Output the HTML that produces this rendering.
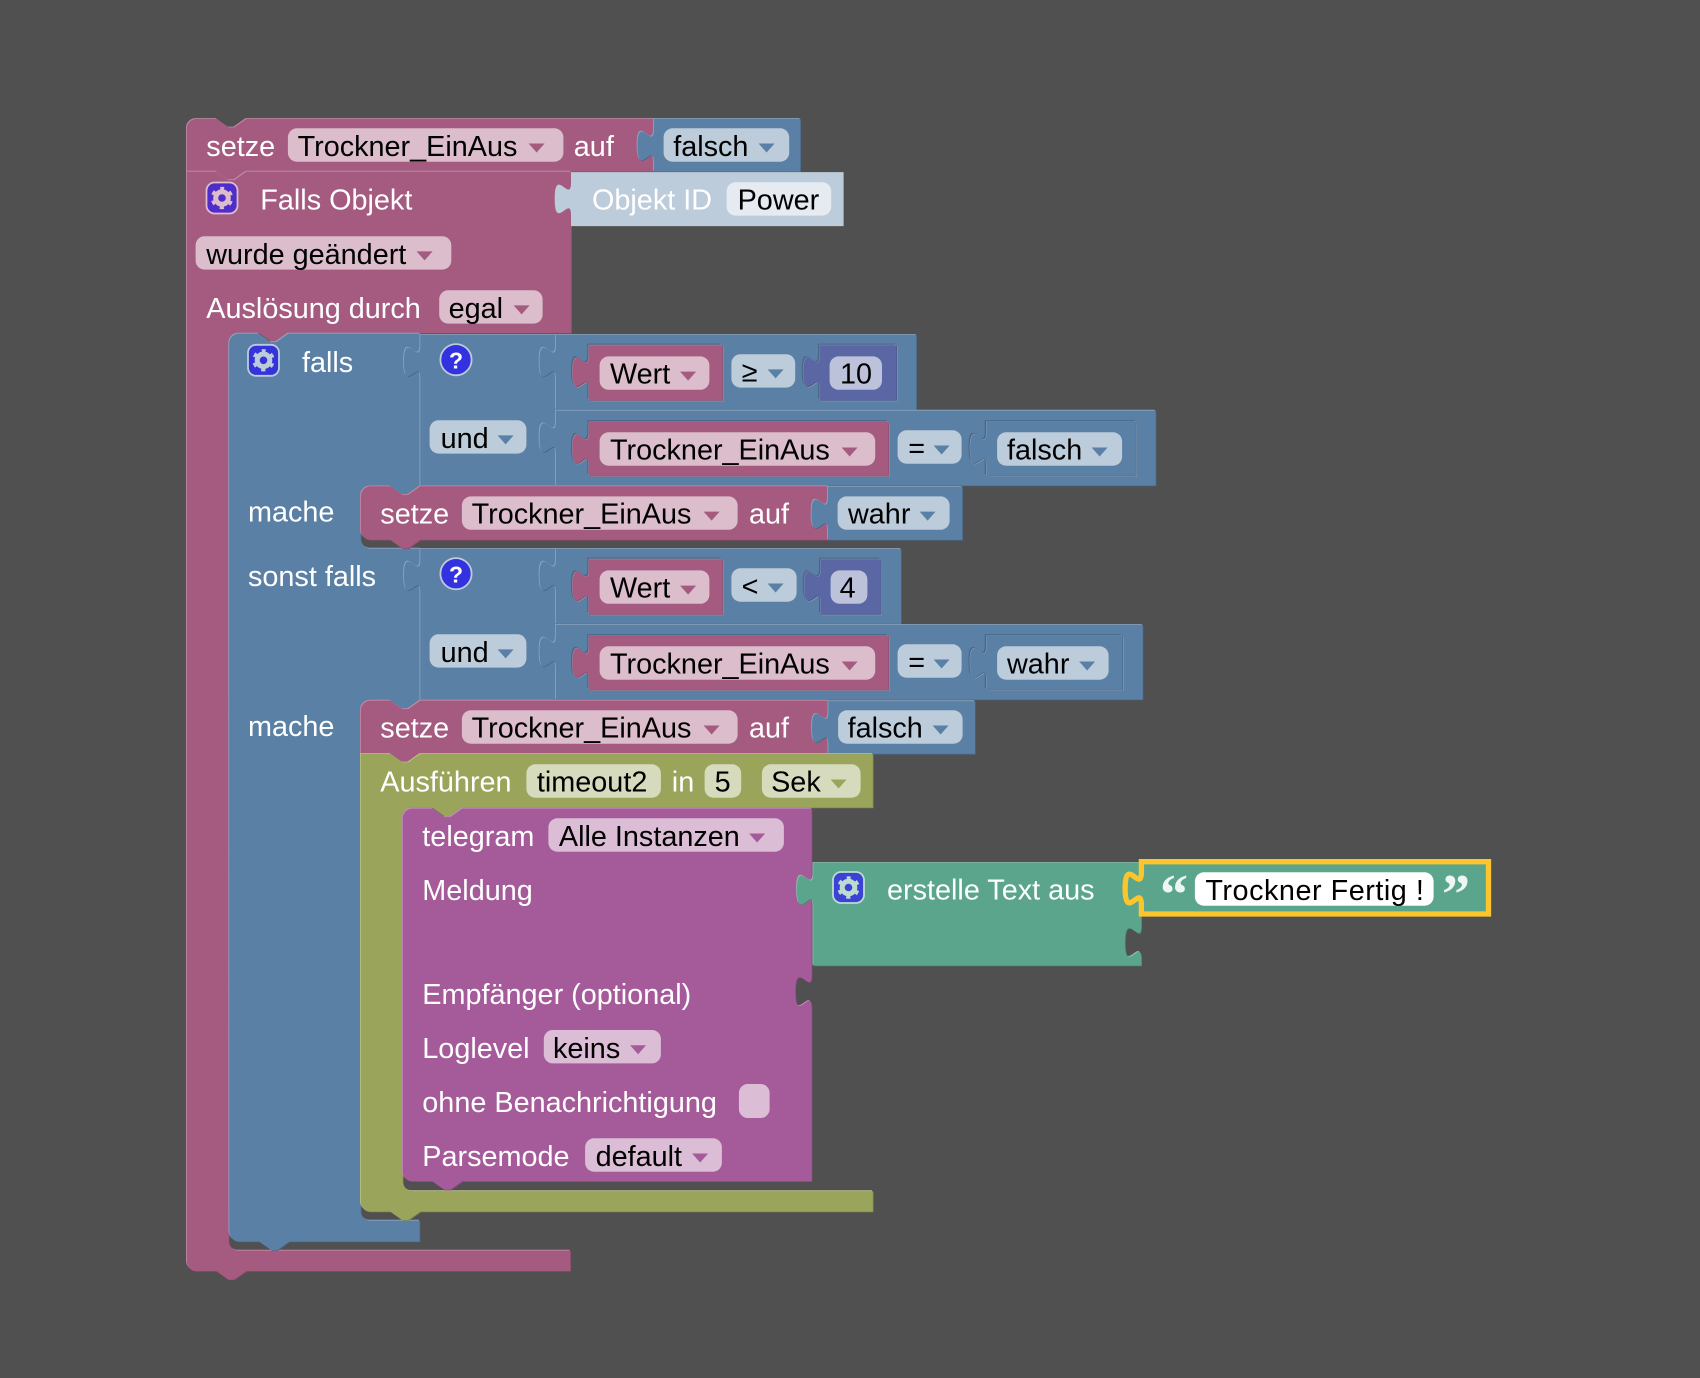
<!DOCTYPE html>
<html><head><meta charset="utf-8"><style>
html,body{margin:0;padding:0;background:#505050}
svg{display:block}
text{font-family:"Liberation Sans",sans-serif;font-size:28.8px}
.w{fill:#fff}.k{fill:#000}
</style></head><body>
<svg width="1700" height="1378" viewBox="0 0 1700 1378" xmlns="http://www.w3.org/2000/svg">
<rect width="1700" height="1378" fill="#505050"/>
<defs>
<path id="a" d="M186.5 128a9.7 9.7 0 0 1 9.7-9.7H216l12 8.5h6l12-8.5H653.5V171H246l-12 8.5h-6l-12-8.5H186.5Z"/>
<path id="b" d="M653.5 171V161.6c0-21.7-16.3 17.3-16.3-16.3s16.3 5.4 16.3-16.3V118.3H800V171Z"/>
<path id="c" d="M186.5 171H216l12 8.5h6l12-8.5H571V332.5H289l-12 8.5h-6l-12-8.5H238a9.5 9.5 0 0 0-9.5 9.5V1240.5a9.5 9.5 0 0 0 9.5 9.5H570V1270.5H246l-12 8.5h-6l-12-8.5H196a9.5 9.5 0 0 1-9.5-9.5Z"/>
<path id="d" d="M228.8 343a10 10 0 0 1 10-10H258l12 8.5h6l12-8.5H420V485.5l-12 8.5h-6l-12-8.5H370a9.5 9.5 0 0 0-9.5 9.5V538a10 10 0 0 0 10 10H420V700l-12 8.5h-6l-12-8.5H370a9.5 9.5 0 0 0-9.5 9.5V1210.5a9.5 9.5 0 0 0 9.5 9.5H419.3V1241H289l-12 8.5h-6l-12-8.5H239a10 10 0 0 1-10-10Z"/>
<path id="e" d="M420 485.5V377.6c0-21.7-16.3 17.3-16.3-16.3s16.3 5.4 16.3-16.3V334.3H555.5V485.5Z"/>
<path id="f" d="M555.5 409V377.6c0-21.7-16.3 17.3-16.3-16.3s16.3 5.4 16.3-16.3V334.3H916V409Z"/>
<path id="g" d="M555.5 485V453.3c0-21.7-16.3 17.3-16.3-16.3s16.3 5.4 16.3-16.3V410H1155.4V485Z"/>
<path id="h" d="M420 700V591.6c0-21.7-16.3 17.3-16.3-16.3s16.3 5.4 16.3-16.3V548.3H555.5V700Z"/>
<path id="i" d="M555.5 623.3V591.6c0-21.7-16.3 17.3-16.3-16.3s16.3 5.4 16.3-16.3V548.3H900.7V623.3Z"/>
<path id="j" d="M555.5 699V667.6c0-21.7-16.3 17.3-16.3-16.3s16.3 5.4 16.3-16.3V624.3H1142.4V699Z"/>
<path id="wt" d="M589 400V388.3c0-21.7-16.3 17.3-16.3-16.3s16.3 5.4 16.3-16.3V345H722.4V400Z"/>
<path id="tr" d="M589 475.7V465c0-21.7-16.3 17.3-16.3-16.3s16.3 5.4 16.3-16.3V421.7H888.7V475.7Z"/>
<path id="n1" d="M819.7 400V388.3c0-21.7-16.3 17.3-16.3-16.3s16.3 5.4 16.3-16.3V345H896.6V400Z"/>
<path id="n2" d="M820.7 614V602.3c0-21.7-16.3 17.3-16.3-16.3s16.3 5.4 16.3-16.3V559H881V614Z"/>
<path id="v1" d="M986.5 475.7V465c0-21.7-16.3 17.3-16.3-16.3s16.3 5.4 16.3-16.3V421.7H1136V475.7Z"/>
<path id="v2" d="M986.5 689.7V679c0-21.7-16.3 17.3-16.3-16.3s16.3 5.4 16.3-16.3V635.7H1122.5V689.7Z"/>
<path id="s1" d="M360.5 495.5a9.8 9.8 0 0 1 9.8-9.8H390l12 8.5h6l12-8.5H828V539.3H420l-12 8.5h-6l-12-8.5H370.2a9.7 9.7 0 0 1-9.7-9.7Z"/>
<path id="s1v" d="M827.5 539.3V529.6c0-21.7-16.3 17.3-16.3-16.3s16.3 5.4 16.3-16.3V486.3H962V539.3Z"/>
<path id="s2" d="M360.5 709.8a9.8 9.8 0 0 1 9.8-9.8H390l12 8.5h6l12-8.5H828V753.3H420l-12 8.5h-6l-12-8.5H360.5Z"/>
<path id="s2v" d="M828 753.3V743.8c0-21.7-16.3 17.3-16.3-16.3s16.3 5.4 16.3-16.3V700.5H974.7V753.3Z"/>
<path id="o" d="M360.5 753.3H390l12 8.5h6l12-8.5H872.5V807H462l-12 8.5h-6l-12-8.5H412a9.5 9.5 0 0 0-9.5 9.5V1181a9.5 9.5 0 0 0 9.5 9.5H872.5V1211H420l-12 8.5h-6l-12-8.5H370a9.5 9.5 0 0 1-9.5-9.5Z"/>
<path id="p" d="M402.5 817.7a9.7 9.7 0 0 1 9.7-9.7H432l12 8.5h6l12-8.5H811.4V974.7c0 21.7-16.3-17.3-16.3 16.3s16.3-5.4 16.3 16.3V1180.7H462l-12 8.5h-6l-12-8.5H412a9.5 9.5 0 0 1-9.5-9.5Z"/>
<path id="q" d="M813 965V905.6c0-21.7-16.3 17.3-16.3-16.3s16.3 5.4 16.3-16.3V862.3H1141V925.6c0 21.7-16.3-17.3-16.3 16.3s16.3-5.4 16.3 16.3V965Z"/>
<g id="gear"><circle r="6.3" fill="none" stroke-width="5"/><circle r="9.5" fill="none" stroke-width="3.4" stroke-dasharray="4.2 5.75" stroke-dashoffset="2.1" transform="rotate(-90)"/></g>
</defs>

<g transform="translate(-.5 -.2)">
<!-- setze top -->
<use href="#a" fill="#c08da6"/><use href="#a" x="1.5" y="1.5" fill="#844966"/><use href="#a" x=".8" y=".8" fill="#a55b80"/>
<use href="#b" fill="#8ca6c0"/><use href="#b" x="1.5" y="1.5" fill="#496684"/><use href="#b" x=".8" y=".8" fill="#5b80a5"/>
<!-- falls objekt -->
<use href="#c" fill="#c08da6"/><use href="#c" x="1.5" y="1.5" fill="#844966"/><use href="#c" x=".8" y=".8" fill="#a55b80"/>
<path d="M571.5 226.3V215.4c0-21.7-16.3 17.3-16.3-16.3s16.3 5.4 16.3-16.3V172.3H844.1V226.3Z" fill="#bdccdb"/>
<!-- falls blue -->
<use href="#d" fill="#8ca6c0"/><use href="#d" x="1.5" y="1.5" fill="#496684"/><use href="#d" x=".8" y=".8" fill="#5b80a5"/>
<use href="#e" fill="#8ca6c0"/><use href="#e" x="1.5" y="1.5" fill="#496684"/><use href="#e" x=".8" y=".8" fill="#5b80a5"/>
<use href="#f" fill="#8ca6c0"/><use href="#f" x="1.5" y="1.5" fill="#496684"/><use href="#f" x=".8" y=".8" fill="#5b80a5"/>
<use href="#g" fill="#8ca6c0"/><use href="#g" x="1.5" y="1.5" fill="#496684"/><use href="#g" x=".8" y=".8" fill="#5b80a5"/>
<use href="#h" fill="#8ca6c0"/><use href="#h" x="1.5" y="1.5" fill="#496684"/><use href="#h" x=".8" y=".8" fill="#5b80a5"/>
<use href="#i" fill="#8ca6c0"/><use href="#i" x="1.5" y="1.5" fill="#496684"/><use href="#i" x=".8" y=".8" fill="#5b80a5"/>
<use href="#j" fill="#8ca6c0"/><use href="#j" x="1.5" y="1.5" fill="#496684"/><use href="#j" x=".8" y=".8" fill="#5b80a5"/>
<!-- inline blocks: socket then block -->
<use href="#wt" x="1.5" y="1.5" fill="#8ca6c0"/><use href="#wt" x="-1.2" y="-1.2" fill="#496684"/><use href="#wt" fill="#c08da6"/><use href="#wt" x="1" y="1" fill="#844966"/><use href="#wt" x=".4" y=".4" fill="#a55b80"/>
<use href="#wt" x="1.5" y="215.5" fill="#8ca6c0"/><use href="#wt" x="-1.2" y="212.8" fill="#496684"/><use href="#wt" y="214" fill="#c08da6"/><use href="#wt" x="1" y="215" fill="#844966"/><use href="#wt" x=".4" y="214.4" fill="#a55b80"/>
<use href="#tr" x="1.5" y="1.5" fill="#8ca6c0"/><use href="#tr" x="-1.2" y="-1.2" fill="#496684"/><use href="#tr" fill="#c08da6"/><use href="#tr" x="1" y="1" fill="#844966"/><use href="#tr" x=".4" y=".4" fill="#a55b80"/>
<use href="#tr" x="1.5" y="215.5" fill="#8ca6c0"/><use href="#tr" x="-1.2" y="212.8" fill="#496684"/><use href="#tr" y="214" fill="#c08da6"/><use href="#tr" x="1" y="215" fill="#844966"/><use href="#tr" x=".4" y="214.4" fill="#a55b80"/>
<use href="#n1" x="1.5" y="1.5" fill="#8ca6c0"/><use href="#n1" x="-1.2" y="-1.2" fill="#496684"/><use href="#n1" fill="#8c95c0"/><use href="#n1" x="1" y="1" fill="#495284"/><use href="#n1" x=".4" y=".4" fill="#5b67a5"/>
<use href="#n2" x="1.5" y="1.5" fill="#8ca6c0"/><use href="#n2" x="-1.2" y="-1.2" fill="#496684"/><use href="#n2" fill="#8c95c0"/><use href="#n2" x="1" y="1" fill="#495284"/><use href="#n2" x=".4" y=".4" fill="#5b67a5"/>
<use href="#v1" x="1.5" y="1.5" fill="#8ca6c0"/><use href="#v1" x="-1.2" y="-1.2" fill="#496684"/><use href="#v1" fill="#8ca6c0"/><use href="#v1" x="1" y="1" fill="#496684"/><use href="#v1" x=".4" y=".4" fill="#5b80a5"/>
<use href="#v2" x="1.5" y="1.5" fill="#8ca6c0"/><use href="#v2" x="-1.2" y="-1.2" fill="#496684"/><use href="#v2" fill="#8ca6c0"/><use href="#v2" x="1" y="1" fill="#496684"/><use href="#v2" x=".4" y=".4" fill="#5b80a5"/>
<!-- setze statements -->
<use href="#s1" fill="#c08da6"/><use href="#s1" x="1.5" y="1.5" fill="#844966"/><use href="#s1" x=".8" y=".8" fill="#a55b80"/>
<use href="#s1v" fill="#8ca6c0"/><use href="#s1v" x="1.5" y="1.5" fill="#496684"/><use href="#s1v" x=".8" y=".8" fill="#5b80a5"/>
<use href="#s2" fill="#c08da6"/><use href="#s2" x="1.5" y="1.5" fill="#844966"/><use href="#s2" x=".8" y=".8" fill="#a55b80"/>
<use href="#s2v" fill="#8ca6c0"/><use href="#s2v" x="1.5" y="1.5" fill="#496684"/><use href="#s2v" x=".8" y=".8" fill="#5b80a5"/>
<!-- timeout -->
<use href="#o" fill="#b8c08c"/><use href="#o" x="1.5" y="1.5" fill="#7b8449"/><use href="#o" x=".8" y=".8" fill="#9aa55b"/>
<!-- telegram -->
<use href="#p" fill="#c08cb8"/><use href="#p" x="1.5" y="1.5" fill="#84497a"/><use href="#p" x=".8" y=".8" fill="#a55b99"/>
<!-- text join -->
<use href="#q" fill="#8cc0ae"/><use href="#q" x="1.5" y="1.5" fill="#498470"/><use href="#q" x=".8" y=".8" fill="#5ba58c"/>
</g>
<path d="M1141.4 914V904.8c0-21.7-16.3 17.3-16.3-16.3s16.3 5.4 16.3-16.3V861.7H1488.5V914Z" fill="#5ba58c" stroke="#fbc52e" stroke-width="5.3"/>

<g transform="translate(-.4 0)">
<!-- fields: pink -->
<g fill="#dbbdcc">
<rect x="288.3" y="128.3" width="275.5" height="33.4" rx="9"/>
<rect x="196" y="236.2" width="255.7" height="33.4" rx="9"/>
<rect x="439.6" y="290.2" width="103.4" height="33.4" rx="9"/>
<rect x="600" y="356.4" width="109.8" height="33.4" rx="9"/>
<rect x="600" y="432.3" width="275.6" height="33.4" rx="9"/>
<rect x="462.3" y="496.4" width="275.7" height="33.4" rx="9"/>
<rect x="600" y="570.4" width="109.8" height="33.4" rx="9"/>
<rect x="600" y="646.3" width="275.6" height="33.4" rx="9"/>
<rect x="462.3" y="710.3" width="275.7" height="33.4" rx="9"/>
</g>
<!-- fields: blue -->
<g fill="#bdccdb">
<rect x="664" y="128.3" width="125.6" height="33.4" rx="9"/>
<rect x="430" y="420.2" width="96.8" height="33.4" rx="9"/>
<rect x="731.8" y="354.2" width="63.8" height="33.4" rx="9"/>
<rect x="898" y="430.3" width="64" height="33.4" rx="9"/>
<rect x="997.5" y="432.3" width="125" height="33.4" rx="9"/>
<rect x="838" y="496.4" width="112" height="33.4" rx="9"/>
<rect x="430" y="634.2" width="96.8" height="33.4" rx="9"/>
<rect x="731.8" y="568.3" width="65.2" height="33.4" rx="9"/>
<rect x="898" y="644.3" width="64" height="33.4" rx="9"/>
<rect x="997.5" y="646.3" width="111.5" height="33.4" rx="9"/>
<rect x="838.5" y="710.3" width="124.5" height="33.4" rx="9"/>
</g>
<rect x="727" y="182.2" width="104.6" height="33.4" rx="9" fill="#e5ebf1"/>
<g fill="#bdc2db">
<rect x="830" y="356.4" width="52.4" height="33.4" rx="9"/>
<rect x="831" y="570.4" width="36.8" height="33.4" rx="9"/>
</g>
<g fill="#d7dbbd">
<rect x="526.8" y="764.3" width="134.5" height="33.4" rx="9"/>
<rect x="705" y="764.3" width="36.6" height="33.4" rx="9"/>
<rect x="762.3" y="764.3" width="98.7" height="33.4" rx="9"/>
</g>
<g fill="#dbbdd6">
<rect x="548.8" y="818.3" width="235.5" height="33.4" rx="9"/>
<rect x="544.2" y="1030" width="117.1" height="33.4" rx="9"/>
<rect x="739.3" y="1084" width="30.7" height="34" rx="9"/>
<rect x="585.5" y="1138.3" width="136.8" height="33.4" rx="9"/>
</g>
<rect x="1195.3" y="872.3" width="238.7" height="33.4" rx="9" fill="#fff"/>

<!-- arrows -->
<path fill="#a55b80" d="M529 143.5h16l-8 9zM417 251.4h16l-8 9zM514 305.4h16l-8 9zM680.5 371.6h16l-8 9zM842 447.5h16l-8 9zM704 511.6h16l-8 9zM680.5 585.6h16l-8 9zM842 661.5h16l-8 9zM704 725.5h16l-8 9z"/>
<path fill="#5b80a5" d="M759 143.5h16l-8 9zM498 435.4h16l-8 9zM768 369.4h16l-8 9zM934 445.5h16l-8 9zM1092 447.5h16l-8 9zM920 511.6h16l-8 9zM498 649.4h16l-8 9zM768 583.5h16l-8 9zM934 659.5h16l-8 9zM1079.5 661.5h16l-8 9zM933 725.5h16l-8 9z"/>
<path fill="#9aa55b" d="M831 779.5h16l-8 9z"/>
<path fill="#a55b99" d="M749.5 833.5h16l-8 9zM630.5 1045.2h16l-8 9zM692.5 1153.5h16l-8 9z"/>
</g>

<!-- gear icons -->
<rect x="206.5" y="182.5" width="31" height="31" rx="8" fill="#4f2ccc" stroke="#dbbdcc" stroke-width="1.8"/>
<use href="#gear" x="222" y="198" stroke="#dbbdcc"/>
<rect x="248" y="344.8" width="31" height="31" rx="8" fill="#3434da" stroke="#bdccdb" stroke-width="1.8"/>
<use href="#gear" x="263.5" y="360.3" stroke="#bdccdb"/>
<rect x="833" y="872" width="31" height="31" rx="8" fill="#3a43d4" stroke="#bddbd1" stroke-width="1.8"/>
<use href="#gear" x="848.5" y="887.5" stroke="#bddbd1"/>
<!-- question icons -->
<circle cx="456" cy="359.7" r="15.6" fill="#3232e0" stroke="#bdccdb" stroke-width="1.8"/>
<circle cx="456" cy="573.7" r="15.6" fill="#3232e0" stroke="#bdccdb" stroke-width="1.8"/>
<text x="456" y="368.5" text-anchor="middle" class="w" style="font-size:23px;font-weight:bold">?</text>
<text x="456" y="582.5" text-anchor="middle" class="w" style="font-size:23px;font-weight:bold">?</text>

<!-- labels -->
<g class="w">
<text x="206.3" y="156">setze</text>
<text x="573.8" y="156">auf</text>
<text x="260.3" y="209.6">Falls Objekt</text>
<text x="206.3" y="318">Auslösung durch</text>
<text x="302" y="372">falls</text>
<text x="248" y="521.5">mache</text>
<text x="380.3" y="523.6">setze</text>
<text x="749" y="523.6">auf</text>
<text x="248" y="586">sonst falls</text>
<text x="248" y="736">mache</text>
<text x="380.3" y="737.6">setze</text>
<text x="749" y="737.6">auf</text>
<text x="380.3" y="791.6">Ausführen</text>
<text x="671.8" y="791.6">in</text>
<text x="422.3" y="846">telegram</text>
<text x="422.3" y="900">Meldung</text>
<text x="422.3" y="1004">Empfänger (optional)</text>
<text x="422.3" y="1058">Loglevel</text>
<text x="422.3" y="1112">ohne Benachrichtigung</text>
<text x="422.3" y="1166">Parsemode</text>
<text x="887" y="899.6">erstelle Text aus</text>
<text x="592" y="209.6">Objekt ID</text>
<text x="1160" y="913" style="font-family:'Liberation Serif',serif;font-weight:bold;font-size:56px" opacity=".9">“</text>
<text x="1442" y="913" style="font-family:'Liberation Serif',serif;font-weight:bold;font-size:56px" opacity=".9">”</text>
</g>
<g class="k">
<text x="297.6" y="156">Trockner_EinAus</text>
<text x="673.2" y="156">falsch</text>
<text x="737.6" y="209.6">Power</text>
<text x="206.2" y="264">wurde geändert</text>
<text x="448.6" y="318">egal</text>
<text x="610" y="383.6">Wert</text>
<text x="741.6" y="381.5">≥</text>
<text x="840" y="383.6">10</text>
<text x="440.6" y="448">und</text>
<text x="610" y="459.6">Trockner_EinAus</text>
<text x="908.2" y="458">=</text>
<text x="1007" y="459.6">falsch</text>
<text x="471.6" y="523.6">Trockner_EinAus</text>
<text x="848" y="523.6">wahr</text>
<text x="610" y="597.6">Wert</text>
<text x="741.6" y="596">&lt;</text>
<text x="839.6" y="597.6">4</text>
<text x="440.6" y="662">und</text>
<text x="610" y="673.6">Trockner_EinAus</text>
<text x="908.2" y="672">=</text>
<text x="1007" y="673.6">wahr</text>
<text x="471.6" y="737.6">Trockner_EinAus</text>
<text x="847.6" y="737.6">falsch</text>
<text x="536.9" y="791.6">timeout2</text>
<text x="714.6" y="791.6">5</text>
<text x="771.1" y="791.6">Sek</text>
<text x="558.9" y="846">Alle Instanzen</text>
<text x="553" y="1058">keins</text>
<text x="595.6" y="1166">default</text>
<text x="1205.4" y="900" style="letter-spacing:.52px">Trockner Fertig !</text>
</g>
</svg>
</body></html>
